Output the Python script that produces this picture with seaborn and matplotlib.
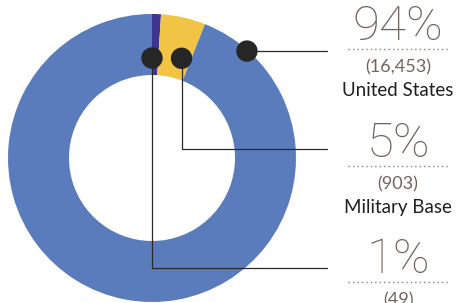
import matplotlib
matplotlib.use("Agg")
import matplotlib.pyplot as plt
import seaborn as sns
import numpy as np
from matplotlib.patches import Circle

# ---- data ----
categories = ["Other", "Military Base", "United States"]
counts = [49, 903, 16453]
percents = [1, 5, 94]
pct_labels = ["1%", "5%", "94%"]
count_labels = ["(49)", "(903)", "(16,453)"]
colors = ["#3d3591", "#f1c446", "#5a7bbc"]

sns.set_theme(style="white")
plt.rcParams["font.family"] = ["Lato", "DejaVu Sans"]

W, H = 463, 303
fig = plt.figure(figsize=(W / 100, H / 100), dpi=100)
ax = fig.add_axes([0, 0, 1, 1])

cx, cy = 152, H - 158
R, width = 144, 61
ax.pie(percents, colors=colors, startangle=90, counterclock=False,
       center=(cx, cy), radius=R, frame=True,
       wedgeprops=dict(width=width, linewidth=0))
ax.set_xlim(0, W)
ax.set_ylim(0, H)
ax.set_aspect("equal")
ax.axis("off")

def polar(ang_deg, r):
    a = np.deg2rad(ang_deg)
    return cx + r * np.sin(a), cy + r * np.cos(a)

# annotation anchor points (angle clockwise from top, radius) -- layout only
anchors = [(0.0, 100), (16.5, 104), (41.6, 143)]
dotted_y = [282, 166, 49]
elbow_y = [268, 149, None]

line_col = "#2b2b2b"
txt_col = "#71655e"
lab_col = "#1f1f1f"
x_end = 327
x_text = 398

for i in range(len(categories)):
    px, py = polar(*anchors[i])
    if elbow_y[i] is None:
        ax.plot([px, x_end], [py, py], color=line_col, lw=0.9, zorder=3)
    else:
        ey = H - elbow_y[i]
        ax.plot([px, px, x_end], [py, ey, ey], color=line_col, lw=0.9, zorder=3)
    ax.add_patch(Circle((px, py), 10, color="#262626", zorder=4))

    d = H - dotted_y[i]
    ax.plot([348, 449], [d, d], color="#8c817a", lw=1.0,
            linestyle=(0, (1, 2.2)), zorder=3)
    ax.text(x_text, d + 9, pct_labels[i], ha="center", va="baseline",
            fontsize=35.5, fontweight="light", color=txt_col,
            family=["Roboto", "DejaVu Sans"])
    ax.text(x_text, d - 18, count_labels[i], ha="center", va="center",
            fontsize=13, color=txt_col)
    if i > 0:
        ax.text(x_text, d - 41, categories[i], ha="center", va="center",
                fontsize=13.5, color=lab_col)

fig.savefig("out.png", dpi=100)
